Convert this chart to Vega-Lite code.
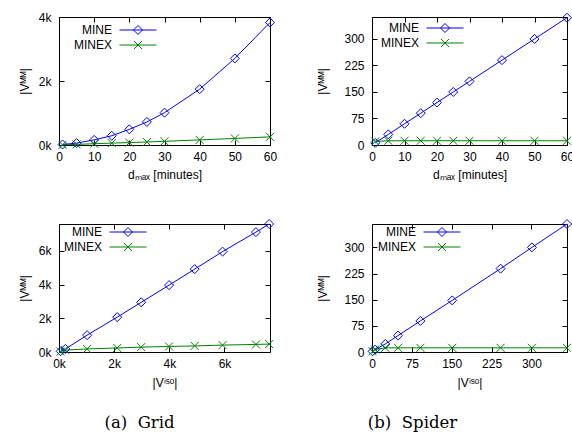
{
  "$schema": "https://vega.github.io/schema/vega-lite/v6.json",
  "padding": {"left": 17, "top": 10, "right": 0, "bottom": 0},
  "datasets": {
    "p1": [
      {"series": "MINE", "x": 1, "y": 15}, {"series": "MINE", "x": 5, "y": 60}, {"series": "MINE", "x": 10, "y": 160}, {"series": "MINE", "x": 15, "y": 290}, {"series": "MINE", "x": 20, "y": 490}, {"series": "MINE", "x": 25, "y": 720}, {"series": "MINE", "x": 30, "y": 1010}, {"series": "MINE", "x": 40, "y": 1745}, {"series": "MINE", "x": 50, "y": 2705}, {"series": "MINE", "x": 60, "y": 3830},
      {"series": "MINEX", "x": 1, "y": 5}, {"series": "MINEX", "x": 5, "y": 20}, {"series": "MINEX", "x": 10, "y": 40}, {"series": "MINEX", "x": 15, "y": 60}, {"series": "MINEX", "x": 20, "y": 75}, {"series": "MINEX", "x": 25, "y": 95}, {"series": "MINEX", "x": 30, "y": 115}, {"series": "MINEX", "x": 40, "y": 160}, {"series": "MINEX", "x": 50, "y": 205}, {"series": "MINEX", "x": 60, "y": 255}
    ],
    "p2": [
      {"series": "MINE", "x": 1, "y": 6}, {"series": "MINE", "x": 5, "y": 30}, {"series": "MINE", "x": 10, "y": 60}, {"series": "MINE", "x": 15, "y": 90}, {"series": "MINE", "x": 20, "y": 120}, {"series": "MINE", "x": 25, "y": 150}, {"series": "MINE", "x": 30, "y": 180}, {"series": "MINE", "x": 40, "y": 240}, {"series": "MINE", "x": 50, "y": 300}, {"series": "MINE", "x": 60, "y": 360},
      {"series": "MINEX", "x": 1, "y": 10}, {"series": "MINEX", "x": 5, "y": 12}, {"series": "MINEX", "x": 10, "y": 12}, {"series": "MINEX", "x": 15, "y": 12}, {"series": "MINEX", "x": 20, "y": 12}, {"series": "MINEX", "x": 25, "y": 12}, {"series": "MINEX", "x": 30, "y": 12}, {"series": "MINEX", "x": 40, "y": 12}, {"series": "MINEX", "x": 50, "y": 12}, {"series": "MINEX", "x": 60, "y": 12}
    ],
    "p3": [
      {"series": "MINE", "x": 60, "y": 40}, {"series": "MINE", "x": 230, "y": 180}, {"series": "MINE", "x": 1020, "y": 1000}, {"series": "MINE", "x": 2110, "y": 2070}, {"series": "MINE", "x": 2980, "y": 2950}, {"series": "MINE", "x": 3990, "y": 3970}, {"series": "MINE", "x": 4920, "y": 4920}, {"series": "MINE", "x": 5930, "y": 5960}, {"series": "MINE", "x": 7140, "y": 7120}, {"series": "MINE", "x": 7620, "y": 7600},
      {"series": "MINEX", "x": 60, "y": 30}, {"series": "MINEX", "x": 230, "y": 110}, {"series": "MINEX", "x": 1020, "y": 180}, {"series": "MINEX", "x": 2110, "y": 240}, {"series": "MINEX", "x": 2980, "y": 290}, {"series": "MINEX", "x": 3990, "y": 330}, {"series": "MINEX", "x": 4920, "y": 360}, {"series": "MINEX", "x": 5930, "y": 410}, {"series": "MINEX", "x": 7140, "y": 450}, {"series": "MINEX", "x": 7620, "y": 470}
    ],
    "p4": [
      {"series": "MINE", "x": 1, "y": 2}, {"series": "MINE", "x": 6, "y": 7}, {"series": "MINE", "x": 25, "y": 23}, {"series": "MINE", "x": 49, "y": 47}, {"series": "MINE", "x": 91, "y": 89}, {"series": "MINE", "x": 151, "y": 148}, {"series": "MINE", "x": 242, "y": 239}, {"series": "MINE", "x": 301, "y": 300}, {"series": "MINE", "x": 367, "y": 367},
      {"series": "MINEX", "x": 1, "y": 2}, {"series": "MINEX", "x": 6, "y": 7}, {"series": "MINEX", "x": 25, "y": 12}, {"series": "MINEX", "x": 49, "y": 12}, {"series": "MINEX", "x": 91, "y": 12}, {"series": "MINEX", "x": 151, "y": 12}, {"series": "MINEX", "x": 242, "y": 12}, {"series": "MINEX", "x": 301, "y": 12}, {"series": "MINEX", "x": 367, "y": 12}
    ]
  },
  "columns": 2,
  "spacing": {"row": 79, "column": 102},
  "bounds": "flush",
  "resolve": {"scale": {"color": "independent", "shape": "independent"}, "legend": {"color": "independent", "shape": "independent"}},
  "concat": [
    {
      "width": 211, "height": 128,
      "data": {"name": "p1"},
      "resolve": {"axis": {"x": "independent", "y": "independent"}},
      "layer": [
        {"transform": [{"filter": "datum.series == 'MINE'"}], "mark": {"type": "line", "color": "#0000ff", "strokeWidth": 1},
         "encoding": {"x": {"field": "x", "type": "quantitative", "scale": {"domain": [0, 60], "nice": false, "zero": false}, "axis": {"values": [0, 10, 20, 30, 40, 50, 60], "title": "dₘₐₓ [minutes]", "titlePadding": 7}},
                      "y": {"field": "y", "type": "quantitative", "scale": {"domain": [0, 4000], "nice": false, "zero": false}, "axis": {"values": [0, 2000, 4000], "labelExpr": "datum.value/1000 + 'k'", "title": "|Vᴹᴹ|", "titlePadding": 7}}}},
        {"transform": [{"filter": "datum.series == 'MINEX'"}], "mark": {"type": "line", "color": "#008000", "strokeWidth": 1},
         "encoding": {"x": {"field": "x", "type": "quantitative", "scale": {"domain": [0, 60], "nice": false, "zero": false}, "axis": null},
                      "y": {"field": "y", "type": "quantitative", "scale": {"domain": [0, 4000], "nice": false, "zero": false}, "axis": null}}},
        {"transform": [{"filter": "datum.series == 'MINE'"}], "mark": {"type": "point", "shape": "diamond", "filled": false, "color": "#0000ff", "size": 81, "strokeWidth": 1, "opacity": 1},
         "encoding": {"x": {"field": "x", "type": "quantitative", "scale": {"domain": [0, 60], "nice": false, "zero": false}, "axis": null},
                      "y": {"field": "y", "type": "quantitative", "scale": {"domain": [0, 4000], "nice": false, "zero": false}, "axis": null}}},
        {"transform": [{"filter": "datum.series == 'MINEX'"}], "mark": {"type": "point", "shape": "M-1,-1L1,1M-1,1L1,-1", "filled": false, "color": "#008000", "size": 64, "strokeWidth": 1, "opacity": 1},
         "encoding": {"x": {"field": "x", "type": "quantitative", "scale": {"domain": [0, 60], "nice": false, "zero": false}, "axis": null},
                      "y": {"field": "y", "type": "quantitative", "scale": {"domain": [0, 4000], "nice": false, "zero": false}, "axis": null}}},
        {"transform": [{"filter": "false"}], "mark": {"type": "point", "filled": false, "size": 100, "strokeWidth": 1, "opacity": 1},
         "encoding": {"x": {"field": "x", "type": "quantitative", "scale": {"domain": [0, 60], "nice": false, "zero": false}, "axis": {"orient": "top", "values": [0, 10, 20, 30, 40, 50, 60], "labels": false, "title": null}},
                      "y": {"field": "y", "type": "quantitative", "scale": {"domain": [0, 4000], "nice": false, "zero": false}, "axis": {"orient": "right", "values": [0, 2000, 4000], "labels": false, "title": null}},
                      "color": {"field": "series", "type": "nominal", "scale": {"domain": ["MINE", "MINEX"], "range": ["#0000ff", "#008000"]}, "legend": {"legendX": 73, "legendY": 7}},
                      "shape": {"field": "series", "type": "nominal", "scale": {"domain": ["MINE", "MINEX"], "range": ["M-3.7,0L3.7,0M0,-0.9L0.9,0L0,0.9L-0.9,0Z", "M-3.7,0L3.7,0M-0.8,-0.8L0.8,0.8M-0.8,0.8L0.8,-0.8"]}, "legend": {"legendX": 73, "legendY": 7}}}}
      ]
    },
    {
      "width": 195, "height": 128,
      "data": {"name": "p2"},
      "resolve": {"axis": {"x": "independent", "y": "independent"}},
      "layer": [
        {"transform": [{"filter": "datum.series == 'MINE'"}], "mark": {"type": "line", "color": "#0000ff", "strokeWidth": 1},
         "encoding": {"x": {"field": "x", "type": "quantitative", "scale": {"domain": [0, 60], "nice": false, "zero": false}, "axis": {"values": [0, 10, 20, 30, 40, 50, 60], "title": "dₘₐₓ [minutes]", "titlePadding": 7}},
                      "y": {"field": "y", "type": "quantitative", "scale": {"domain": [0, 362], "nice": false, "zero": false}, "axis": {"values": [0, 75, 150, 225, 300], "title": "|Vᴹᴹ|", "titlePadding": 14}}}},
        {"transform": [{"filter": "datum.series == 'MINEX'"}], "mark": {"type": "line", "color": "#008000", "strokeWidth": 1},
         "encoding": {"x": {"field": "x", "type": "quantitative", "scale": {"domain": [0, 60], "nice": false, "zero": false}, "axis": null},
                      "y": {"field": "y", "type": "quantitative", "scale": {"domain": [0, 362], "nice": false, "zero": false}, "axis": null}}},
        {"transform": [{"filter": "datum.series == 'MINE'"}], "mark": {"type": "point", "shape": "diamond", "filled": false, "color": "#0000ff", "size": 81, "strokeWidth": 1, "opacity": 1},
         "encoding": {"x": {"field": "x", "type": "quantitative", "scale": {"domain": [0, 60], "nice": false, "zero": false}, "axis": null},
                      "y": {"field": "y", "type": "quantitative", "scale": {"domain": [0, 362], "nice": false, "zero": false}, "axis": null}}},
        {"transform": [{"filter": "datum.series == 'MINEX'"}], "mark": {"type": "point", "shape": "M-1,-1L1,1M-1,1L1,-1", "filled": false, "color": "#008000", "size": 64, "strokeWidth": 1, "opacity": 1},
         "encoding": {"x": {"field": "x", "type": "quantitative", "scale": {"domain": [0, 60], "nice": false, "zero": false}, "axis": null},
                      "y": {"field": "y", "type": "quantitative", "scale": {"domain": [0, 362], "nice": false, "zero": false}, "axis": null}}},
        {"transform": [{"filter": "false"}], "mark": {"type": "point", "filled": false, "size": 100, "strokeWidth": 1, "opacity": 1},
         "encoding": {"x": {"field": "x", "type": "quantitative", "scale": {"domain": [0, 60], "nice": false, "zero": false}, "axis": {"orient": "top", "values": [0, 10, 20, 30, 40, 50, 60], "labels": false, "title": null}},
                      "y": {"field": "y", "type": "quantitative", "scale": {"domain": [0, 362], "nice": false, "zero": false}, "axis": {"orient": "right", "values": [0, 75, 150, 225, 300], "labels": false, "title": null}},
                      "color": {"field": "series", "type": "nominal", "scale": {"domain": ["MINE", "MINEX"], "range": ["#0000ff", "#008000"]}, "legend": {"legendX": 67, "legendY": 5}},
                      "shape": {"field": "series", "type": "nominal", "scale": {"domain": ["MINE", "MINEX"], "range": ["M-3.7,0L3.7,0M0,-0.9L0.9,0L0,0.9L-0.9,0Z", "M-3.7,0L3.7,0M-0.8,-0.8L0.8,0.8M-0.8,0.8L0.8,-0.8"]}, "legend": {"legendX": 67, "legendY": 5}}}}
      ]
    },
    {
      "width": 211, "height": 128,
      "data": {"name": "p3"},
      "title": {"text": "(a)\u00a0\u00a0Grid", "orient": "bottom", "frame": "group", "anchor": "middle", "dx": -25, "offset": 27},
      "resolve": {"axis": {"x": "independent", "y": "independent"}},
      "layer": [
        {"transform": [{"filter": "datum.series == 'MINE'"}], "mark": {"type": "line", "color": "#0000ff", "strokeWidth": 1},
         "encoding": {"x": {"field": "x", "type": "quantitative", "scale": {"domain": [0, 7650], "nice": false, "zero": false}, "axis": {"values": [0, 2000, 4000, 6000], "labelExpr": "datum.value/1000 + 'k'", "title": "|Vⁱˢᵒ|", "titlePadding": 8}},
                      "y": {"field": "y", "type": "quantitative", "scale": {"domain": [0, 7600], "nice": false, "zero": false}, "axis": {"values": [0, 2000, 4000, 6000], "labelExpr": "datum.value/1000 + 'k'", "title": "|Vᴹᴹ|", "titlePadding": 7}}}},
        {"transform": [{"filter": "datum.series == 'MINEX'"}], "mark": {"type": "line", "color": "#008000", "strokeWidth": 1},
         "encoding": {"x": {"field": "x", "type": "quantitative", "scale": {"domain": [0, 7650], "nice": false, "zero": false}, "axis": null},
                      "y": {"field": "y", "type": "quantitative", "scale": {"domain": [0, 7600], "nice": false, "zero": false}, "axis": null}}},
        {"transform": [{"filter": "datum.series == 'MINE'"}], "mark": {"type": "point", "shape": "diamond", "filled": false, "color": "#0000ff", "size": 81, "strokeWidth": 1, "opacity": 1},
         "encoding": {"x": {"field": "x", "type": "quantitative", "scale": {"domain": [0, 7650], "nice": false, "zero": false}, "axis": null},
                      "y": {"field": "y", "type": "quantitative", "scale": {"domain": [0, 7600], "nice": false, "zero": false}, "axis": null}}},
        {"transform": [{"filter": "datum.series == 'MINEX'"}], "mark": {"type": "point", "shape": "M-1,-1L1,1M-1,1L1,-1", "filled": false, "color": "#008000", "size": 64, "strokeWidth": 1, "opacity": 1},
         "encoding": {"x": {"field": "x", "type": "quantitative", "scale": {"domain": [0, 7650], "nice": false, "zero": false}, "axis": null},
                      "y": {"field": "y", "type": "quantitative", "scale": {"domain": [0, 7600], "nice": false, "zero": false}, "axis": null}}},
        {"transform": [{"filter": "false"}], "mark": {"type": "point", "filled": false, "size": 100, "strokeWidth": 1, "opacity": 1},
         "encoding": {"x": {"field": "x", "type": "quantitative", "scale": {"domain": [0, 7650], "nice": false, "zero": false}, "axis": {"orient": "top", "values": [0, 2000, 4000, 6000], "labels": false, "title": null}},
                      "y": {"field": "y", "type": "quantitative", "scale": {"domain": [0, 7600], "nice": false, "zero": false}, "axis": {"orient": "right", "values": [0, 2000, 4000, 6000], "labels": false, "title": null}},
                      "color": {"field": "series", "type": "nominal", "scale": {"domain": ["MINE", "MINEX"], "range": ["#0000ff", "#008000"]}, "legend": {"legendX": 63, "legendY": 2}},
                      "shape": {"field": "series", "type": "nominal", "scale": {"domain": ["MINE", "MINEX"], "range": ["M-3.7,0L3.7,0M0,-0.9L0.9,0L0,0.9L-0.9,0Z", "M-3.7,0L3.7,0M-0.8,-0.8L0.8,0.8M-0.8,0.8L0.8,-0.8"]}, "legend": {"legendX": 63, "legendY": 2}}}}
      ]
    },
    {
      "width": 195, "height": 128,
      "data": {"name": "p4"},
      "title": {"text": "(b)\u00a0\u00a0Spider", "orient": "bottom", "frame": "group", "anchor": "middle", "dx": -57, "offset": 27},
      "resolve": {"axis": {"x": "independent", "y": "independent"}},
      "layer": [
        {"transform": [{"filter": "datum.series == 'MINE'"}], "mark": {"type": "line", "color": "#0000ff", "strokeWidth": 1},
         "encoding": {"x": {"field": "x", "type": "quantitative", "scale": {"domain": [0, 367], "nice": false, "zero": false}, "axis": {"values": [0, 75, 150, 225, 300], "title": "|Vⁱˢᵒ|", "titlePadding": 8}},
                      "y": {"field": "y", "type": "quantitative", "scale": {"domain": [0, 367], "nice": false, "zero": false}, "axis": {"values": [0, 75, 150, 225, 300], "title": "|Vᴹᴹ|", "titlePadding": 14}}}},
        {"transform": [{"filter": "datum.series == 'MINEX'"}], "mark": {"type": "line", "color": "#008000", "strokeWidth": 1},
         "encoding": {"x": {"field": "x", "type": "quantitative", "scale": {"domain": [0, 367], "nice": false, "zero": false}, "axis": null},
                      "y": {"field": "y", "type": "quantitative", "scale": {"domain": [0, 367], "nice": false, "zero": false}, "axis": null}}},
        {"transform": [{"filter": "datum.series == 'MINE'"}], "mark": {"type": "point", "shape": "diamond", "filled": false, "color": "#0000ff", "size": 81, "strokeWidth": 1, "opacity": 1},
         "encoding": {"x": {"field": "x", "type": "quantitative", "scale": {"domain": [0, 367], "nice": false, "zero": false}, "axis": null},
                      "y": {"field": "y", "type": "quantitative", "scale": {"domain": [0, 367], "nice": false, "zero": false}, "axis": null}}},
        {"transform": [{"filter": "datum.series == 'MINEX'"}], "mark": {"type": "point", "shape": "M-1,-1L1,1M-1,1L1,-1", "filled": false, "color": "#008000", "size": 64, "strokeWidth": 1, "opacity": 1},
         "encoding": {"x": {"field": "x", "type": "quantitative", "scale": {"domain": [0, 367], "nice": false, "zero": false}, "axis": null},
                      "y": {"field": "y", "type": "quantitative", "scale": {"domain": [0, 367], "nice": false, "zero": false}, "axis": null}}},
        {"transform": [{"filter": "false"}], "mark": {"type": "point", "filled": false, "size": 100, "strokeWidth": 1, "opacity": 1},
         "encoding": {"x": {"field": "x", "type": "quantitative", "scale": {"domain": [0, 367], "nice": false, "zero": false}, "axis": {"orient": "top", "values": [0, 75, 150, 225, 300], "labels": false, "title": null}},
                      "y": {"field": "y", "type": "quantitative", "scale": {"domain": [0, 367], "nice": false, "zero": false}, "axis": {"orient": "right", "values": [0, 75, 150, 225, 300], "labels": false, "title": null}},
                      "color": {"field": "series", "type": "nominal", "scale": {"domain": ["MINE", "MINEX"], "range": ["#0000ff", "#008000"]}, "legend": {"legendX": 64, "legendY": 2}},
                      "shape": {"field": "series", "type": "nominal", "scale": {"domain": ["MINE", "MINEX"], "range": ["M-3.7,0L3.7,0M0,-0.9L0.9,0L0,0.9L-0.9,0Z", "M-3.7,0L3.7,0M-0.8,-0.8L0.8,0.8M-0.8,0.8L0.8,-0.8"]}, "legend": {"legendX": 64, "legendY": 2}}}}
      ]
    }
  ],
  "config": {
    "view": {"stroke": "black", "strokeWidth": 1},
    "axis": {"domain": false, "grid": false, "ticks": true, "tickSize": -5, "tickColor": "black", "tickWidth": 1,
             "labelFont": "Liberation Sans", "labelFontSize": 12, "labelColor": "black", "labelFlush": false, "labelOverlap": false,
             "titleFont": "Liberation Sans", "titleFontSize": 12, "titleFontWeight": "normal", "titleColor": "black"},
    "axisX": {"labelPadding": 11},
    "axisY": {"labelPadding": 13},
    "legend": {"orient": "none", "title": null, "padding": 0, "rowPadding": 2, "symbolSize": 100, "symbolStrokeWidth": 1,
               "labelFont": "Liberation Sans", "labelFontSize": 12, "labelColor": "black", "labelAlign": "right", "labelOffset": -32},
    "title": {"font": "DejaVu Serif", "fontSize": 16.5, "fontWeight": "normal", "color": "black"}
  }
}
